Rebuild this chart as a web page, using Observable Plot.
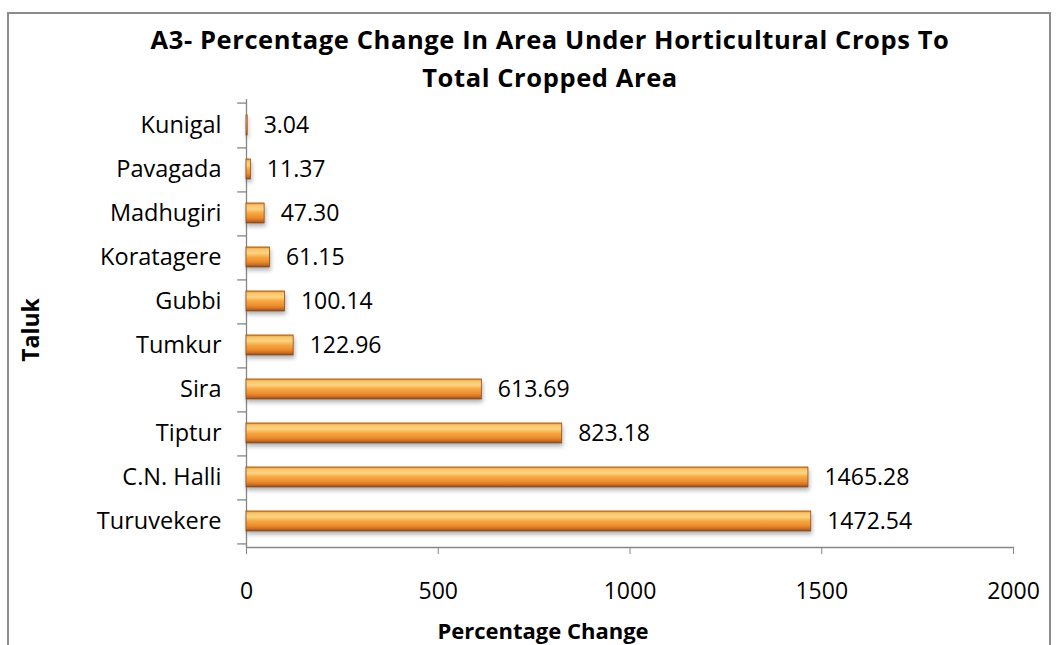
<!DOCTYPE html>
<html><head><meta charset="utf-8">
<script src="https://cdn.jsdelivr.net/npm/d3@7"></script>
<script src="https://cdn.jsdelivr.net/npm/@observablehq/plot@0.6"></script>
<style>
body{margin:0;background:#fff;overflow:hidden;font-family:"Open Sans",Lato,sans-serif;}
#wrap{position:relative;width:1058px;height:645px;overflow:hidden;background:#fff;}
#border{position:absolute;left:7px;top:12px;width:1040px;height:700px;border:2px solid #8c8c8c;}
#chart{position:absolute;left:0;top:0;}
.t{position:absolute;font-weight:bold;color:#000;white-space:nowrap;}
#title{left:0;width:1100px;top:20px;text-align:center;font-size:25.5px;letter-spacing:0.6px;line-height:38px;}
#ytitle{left:30px;top:330px;font-size:23px;line-height:26px;transform:translate(-50%,-50%) rotate(-90deg);}
#xtitle{left:543px;top:630px;font-size:22px;line-height:24px;transform:translate(-50%,-50%);}
[aria-label="x-axis tick"]{stroke:#868686;}
</style></head>
<body><div id="wrap"><div id="border"></div><div id="chart"></div>
<div id="title" class="t">A3- Percentage Change In Area Under Horticultural Crops To<br>Total Cropped Area</div>
<div id="ytitle" class="t">Taluk</div>
<div id="xtitle" class="t">Percentage Change</div>
</div>
<script>
const taluks = ["Kunigal","Pavagada","Madhugiri","Koratagere","Gubbi","Tumkur","Sira","Tiptur","C.N. Halli","Turuvekere"];
const changes = [3.04,11.37,47.30,61.15,100.14,122.96,613.69,823.18,1465.28,1472.54];
const xTicks = [0,500,1000,1500,2000];
const data = taluks.map((t,i)=>({t, v: changes[i]}));
const fmt = d3.format(".2f");
const bounds = [taluks[0], ...taluks]; // band-edge tick positions
const step = 448/10;

const svg = Plot.plot({
  width:1058, height:645,
  marginLeft:246, marginRight:45, marginTop:99, marginBottom:98,
  style:{fontFamily:"'Open Sans', Lato, sans-serif", fontSize:"23px", color:"#000", background:"transparent", overflow:"visible"},
  x:{domain:[0,2000], label:null},
  y:{domain:taluks, paddingInner:0.55, paddingOuter:0.275, label:null},
  marks:[
    Plot.axisY({tickSize:0, tickPadding:25, fontSize:23.5, label:null}),
    Plot.axisX({ticks:xTicks, tickSize:7, tickPadding:28, fontSize:23, label:null, tickFormat:d3.format("d")}),
    Plot.ruleX([0], {stroke:"#868686", strokeWidth:1.3}),
    Plot.frame({anchor:"bottom", stroke:"#868686", strokeWidth:1.3}),
    Plot.ruleY(bounds, {y:d=>d, x1:-23, x2:0, stroke:"#868686", strokeWidth:1.3, clip:false}),
    Plot.barX(data, {x:"v", y:"t", fill:"url(#barGrad)", stroke:"#8e4c16", strokeWidth:0.8}),
    Plot.text(data, {x:"v", y:"t", text:d=>fmt(d.v), dx:16, textAnchor:"start", fontSize:23, fill:"#000"})
  ]
});
document.getElementById("chart").appendChild(svg);

// shift boundary rules to band edges
const rulesG = d3.select(svg).selectAll('[aria-label="rule"]').filter(function(){ return d3.select(this).selectAll("line").size() === bounds.length; });
rulesG.selectAll("line").each(function(d,i){
  const off = i === 0 ? -step/2 : step/2;
  const l = d3.select(this);
  l.attr("y1", +l.attr("y1") + off).attr("y2", +l.attr("y2") + off);
});

const defs = d3.select(svg).insert("defs", ":first-child");
const g = defs.append("linearGradient").attr("id","barGrad").attr("x1",0).attr("y1",0).attr("x2",0).attr("y2",1);
[[0,"#e8872a"],[0.1,"#f9c46a"],[0.3,"#fbd482"],[0.5,"#f6a844"],[0.75,"#eb8b2c"],[0.9,"#c8691f"],[1,"#8e4c16"]]
  .forEach(([o,c])=>g.append("stop").attr("offset",o).attr("stop-color",c));
const f = defs.append("filter").attr("id","shadow").attr("x","-5%").attr("y","-50%").attr("width","110%").attr("height","250%");
f.append("feDropShadow").attr("dx",1).attr("dy",3).attr("stdDeviation",2).attr("flood-color","#000").attr("flood-opacity",0.3);
d3.select(svg).selectAll('[aria-label="bar"]').attr("filter","url(#shadow)");
</script>
</body></html>
